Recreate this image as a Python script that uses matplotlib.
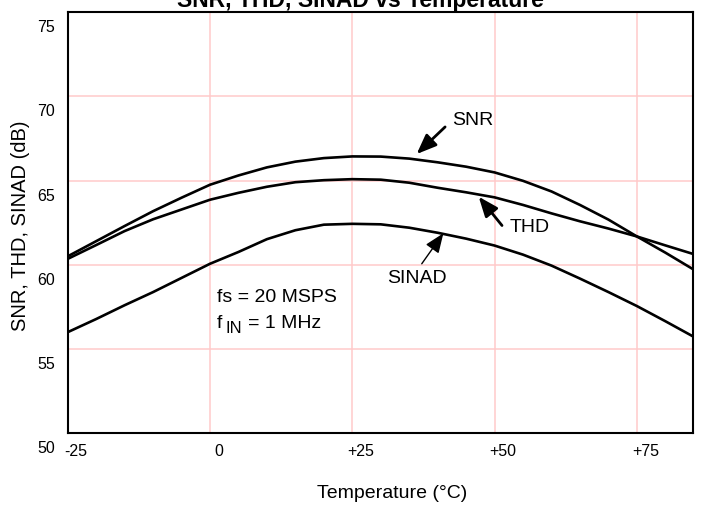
import matplotlib
matplotlib.use('Agg')
import matplotlib.pyplot as plt
import matplotlib.transforms as mtransforms

plt.rcParams['font.family'] = ['Liberation Sans', 'DejaVu Sans']

# temperature (deg C)
temps = [-25, -20, -15, -10, -5, 0, 5, 10, 15, 20, 25, 30, 35, 40, 45, 50,
         55, 60, 65, 70, 75, 80, 84.8]

# curves (dB)
snr = [60.5, 61.4, 62.3, 63.18, 63.98, 64.75, 65.3, 65.78, 66.12, 66.33, 66.43,
       66.42, 66.3, 66.08, 65.82, 65.48, 64.98, 64.35, 63.55, 62.68, 61.68, 60.72, 59.75]
thd = [60.35, 61.17, 62.0, 62.7, 63.28, 63.86, 64.27, 64.63, 64.9, 65.02, 65.08,
       65.05, 64.87, 64.57, 64.3, 64.0, 63.55, 63.05, 62.58, 62.15, 61.68, 61.15, 60.65]
sinad = [56.0, 56.78, 57.6, 58.38, 59.22, 60.06, 60.76, 61.52, 62.05, 62.38, 62.43,
         62.4, 62.2, 61.9, 61.55, 61.14, 60.6, 59.95, 59.18, 58.38, 57.55, 56.65, 55.76]

x_ticks = [-25, 0, 25, 50, 75]
x_ticklabels = ['-25', '0', '+25', '+50', '+75']
y_ticks = [50, 55, 60, 65, 70, 75]
y_ticklabels = ['50', '55', '60', '65', '70', '75']

fig = plt.figure(figsize=(7.01, 5.05), dpi=100)
ax = fig.add_axes([67.7 / 701, 1 - 433.3 / 505, 625 / 701, 421.3 / 505])

for series in (snr, thd, sinad):
    ax.plot(temps, series, color='black', lw=1.9, solid_capstyle='butt',
            solid_joinstyle='round')

ax.set_xlim(-25, 84.8)
ax.set_ylim(50, 75)
ax.set_xticks(x_ticks)
ax.set_xticklabels(x_ticklabels, fontsize=11.5)
ax.set_yticks(y_ticks)
ax.set_yticklabels(y_ticklabels, fontsize=11.5)
ax.tick_params(length=0)
ax.tick_params(axis='x', pad=8)
ax.tick_params(axis='y', pad=9)
ax.grid(True, color='#ffcaca', lw=1.1)
ax.set_axisbelow(True)
for s in ax.spines.values():
    s.set_linewidth(1.5)
    s.set_color('black')

# labels sit a bit off their grid lines, like the original
dx = mtransforms.ScaledTranslation(8.5 / 100, 0, fig.dpi_scale_trans)
for lab in ax.get_xticklabels():
    lab.set_transform(lab.get_transform() + dx)
dy = mtransforms.ScaledTranslation(0, -14 / 100, fig.dpi_scale_trans)
for lab in ax.get_yticklabels():
    lab.set_transform(lab.get_transform() + dy)

# titles
fig.text(360.5 / 701, 1 - 7.3 / 505, 'SNR, THD, SINAD vs Temperature',
         ha='center', va='baseline', fontsize=16.5, fontweight='bold')
fig.text(316.7 / 701, 1 - 494 / 505, 'Temperature (°C)', ha='left', va='center',
         fontsize=14)
fig.text(21 / 701, 1 - 226 / 505, 'SNR, THD, SINAD (dB)', rotation=90,
         ha='center', va='center', fontsize=14.5)

# curve callouts
thick = dict(arrowstyle='-|>,head_length=0.6,head_width=0.24', color='black',
             lw=2, mutation_scale=20, shrinkA=0, shrinkB=0)
thin = dict(thick, lw=1)
ax.annotate('', xy=(36.3, 66.57), xytext=(41.3, 68.18), arrowprops=thick)
ax.text(42.5, 68.54, 'SNR', fontsize=14, ha='left', va='center')
ax.annotate('', xy=(47.2, 64.04), xytext=(51.3, 62.33), arrowprops=thick)
ax.text(52.7, 62.22, 'THD', fontsize=14, ha='left', va='center')
ax.annotate('', xy=(41.0, 61.87), xytext=(37.2, 60.06), arrowprops=thin)
ax.text(36.3, 59.17, 'SINAD', fontsize=14, ha='center', va='center')

# test conditions
ax.text(1.19, 58.08, 'fs = 20 MSPS', fontsize=14, ha='left', va='center')
ax.text(1.19, 56.51, 'f', fontsize=14, ha='left', va='center')
ax.annotate('IN', xy=(1.19, 56.51), xytext=(9, -5), textcoords='offset pixels',
            fontsize=12, ha='left', va='center')
ax.annotate('= 1 MHz', xy=(1.19, 56.51), xytext=(31.6, 0), textcoords='offset pixels',
            fontsize=14, ha='left', va='center')

fig.savefig('out.png', dpi=100)
